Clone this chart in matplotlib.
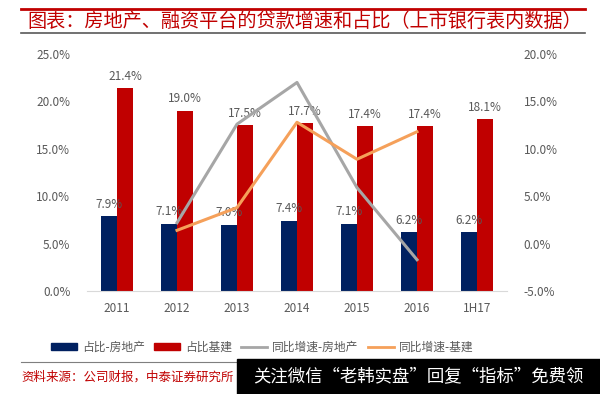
import matplotlib.pyplot as plt
import numpy as np
from matplotlib.patches import Rectangle
from matplotlib.lines import Line2D

plt.rcParams['font.family'] = ['Noto Sans CJK SC', 'DejaVu Sans']

# data
years = ['2011', '2012', '2013', '2014', '2015', '2016', '1H17']
share_realestate = [7.9, 7.1, 7.0, 7.4, 7.1, 6.2, 6.2]
share_infra = [21.4, 19.0, 17.5, 17.7, 17.4, 17.4, 18.1]
# yoy growth, starts in 2012, ends 2016
growth_realestate = [None, 2.2, 12.6, 17.0, 5.9, -1.7, None]
growth_infra = [None, 1.4, 3.8, 12.8, 8.9, 11.8, None]

navy = '#002060'
red = '#C00000'
gray = '#A6A6A6'
orange = '#F5A05A'
txt = '#595959'

fig = plt.figure(figsize=(6, 3.94), dpi=100)
ax = fig.add_axes([0.145, 0.2614, 0.70, 0.6015])
ax2 = ax.twinx()

x = np.arange(len(years))
w = 0.27
ax.bar(x - w / 2, share_realestate, w, color=navy, zorder=2)
ax.bar(x + w / 2, share_infra, w, color=red, zorder=2)
for i in range(len(years)):
    ax.annotate(f'{share_realestate[i]:.1f}%', (x[i] - w / 2, share_realestate[i]),
                xytext=(0, 4), textcoords='offset points', ha='center', va='bottom',
                fontsize=8.5, color=txt, zorder=5)
    ax.annotate(f'{share_infra[i]:.1f}%', (x[i] + w / 2, share_infra[i]),
                xytext=(0, 4), textcoords='offset points', ha='center', va='bottom',
                fontsize=8.5, color=txt, zorder=5)

ax.set_ylim(0, 25)
ax.set_yticks([0, 5, 10, 15, 20, 25])
ax.set_yticklabels([f'{v:.1f}%' for v in [0, 5, 10, 15, 20, 25]])
ax.set_xlim(-0.5, len(years) - 0.5)
ax.set_xticks(x)
ax.set_xticklabels(years)

gx = [i for i in x if growth_realestate[i] is not None]
ax2.plot(gx, [growth_realestate[i] for i in gx], color=gray, lw=2.2, zorder=3)
ax2.plot(gx, [growth_infra[i] for i in gx], color=orange, lw=2.2, zorder=3)
ax2.set_ylim(-5, 20)
ax2.set_yticks([-5, 0, 5, 10, 15, 20])
ax2.set_yticklabels([f'{v:.1f}%' for v in [-5, 0, 5, 10, 15, 20]])

for a in (ax, ax2):
    for s in a.spines.values():
        s.set_visible(False)
    a.tick_params(length=0, labelsize=8.5, labelcolor=txt)
ax.spines['bottom'].set_visible(True)
ax.spines['bottom'].set_color('#D9D9D9')
ax.tick_params(axis='x', pad=8)
ax.tick_params(axis='y', pad=12)
ax2.tick_params(axis='y', pad=12)

# title block
fig.add_artist(Line2D([0.035, 0.975], [0.977, 0.977], color=red, lw=2))
fig.add_artist(Line2D([0.035, 0.975], [0.916, 0.916], color='#595959', lw=1.2))
fig.text(0.508, 0.946, '图表：房地产、融资平台的贷款增速和占比（上市银行表内数据）',
         ha='center', va='center', fontsize=13.8, color=red, style='italic')

handles = [Rectangle((0, 0), 1, 1, color=navy), Rectangle((0, 0), 1, 1, color=red),
           Line2D([], [], color=gray, lw=2), Line2D([], [], color=orange, lw=2)]
labels = ['占比-房地产', '占比基建', '同比增速-房地产', '同比增速-基建']
fig.legend(handles, labels, loc='center', bbox_to_anchor=(0.437, 0.119), ncol=4,
           frameon=False, fontsize=8.5, labelcolor=txt, handlelength=2.2,
           handleheight=0.6, columnspacing=0.8, handletextpad=0.4)

fig.add_artist(Line2D([0.035, 0.985], [0.082, 0.082], color='#7F7F7F', lw=0.8))
fig.text(0.035, 0.043, '资料来源：公司财报，中泰证券研究所', ha='left', va='center',
         fontsize=9, color=red)

# watermark box
fig.add_artist(Rectangle((0.395, 0.0), 0.605, 0.09, transform=fig.transFigure,
                         color='black', zorder=10))
fig.text(0.698, 0.045, '关注微信“老韩实盘”回复“指标”免费领', ha='center', va='center',
         fontsize=12.5, color='white', zorder=11)

fig.savefig('out.png', dpi=100)
